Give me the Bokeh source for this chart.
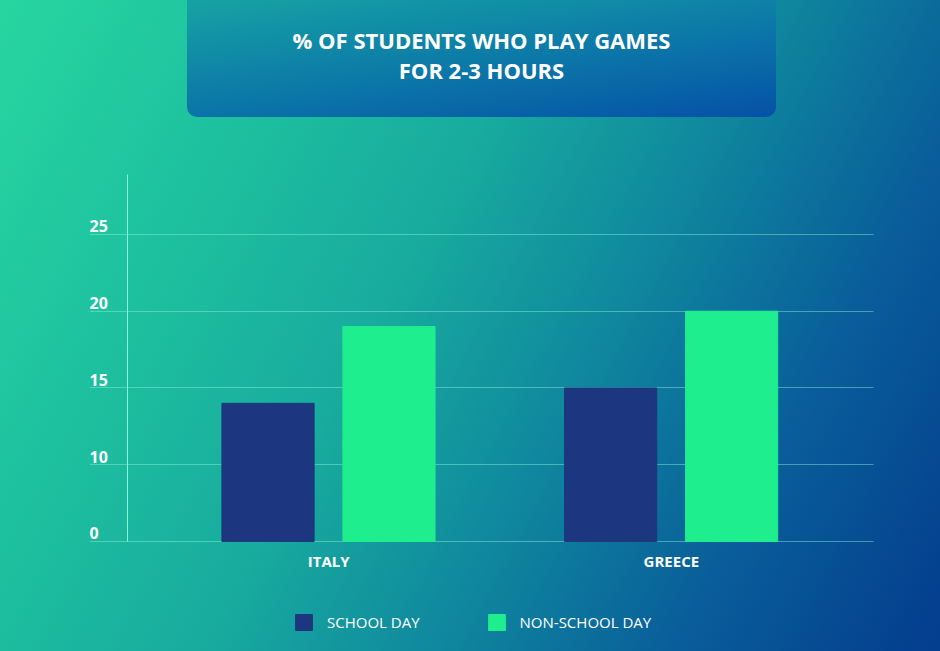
from bokeh.plotting import figure
from bokeh.models import ColumnDataSource, FixedTicker, LabelSet, Div
from bokeh.layouts import column
from bokeh.transform import dodge
from bokeh.core.properties import value
from bokeh.embed import file_html
from bokeh.resources import INLINE

countries = ["ITALY", "GREECE"]
school_day = [14, 15]
non_school_day = [19, 20]

# the original axis reads 0, 10, 15, 20, 25 with equal spacing
y_ticks = [5, 10, 15, 20, 25]
y_tick_labels = ["0", "10", "15", "20", "25"]

title_lines = ["% OF STUDENTS WHO PLAY GAMES", "FOR 2-3 HOURS"]

source = ColumnDataSource(data=dict(country=countries, school=school_day, nonschool=non_school_day))

header = Div(
    text="<div style=\"width:589px;padding-top:25px;text-align:center;color:white;font-family:'Open Sans';"
         "font-weight:700;font-size:22px;line-height:30px;\">" + "<br>".join(title_lines) + "</div>",
    width=589, height=117, margin=(0, 0, 0, 187),
    styles={"background": "linear-gradient(172deg, #16a3a4 0%, #0b74a8 58%, #0551a6 100%)",
            "border-radius": "0 0 10px 10px"},
)

# frame covers the whole plot area, axes sit inside it
p = figure(x_range=countries, y_range=(-2.17, 32.62), width=940, height=534,
           output_backend="svg", toolbar_location=None,
           min_border_left=89, min_border_right=30, min_border_top=0, min_border_bottom=0)

p.background_fill_alpha = 0
p.border_fill_alpha = 0
p.outline_line_color = None
p.x_range.range_padding = 0.198
p.x_range.range_padding_units = "absolute"

p.vbar(x=dodge("country", -0.177, range=p.x_range), top="school", bottom=y_ticks[0], width=0.269,
       source=source, color="#1c377f", legend_label="SCHOOL DAY")
p.vbar(x=dodge("country", 0.176, range=p.x_range), top="nonschool", bottom=y_ticks[0], width=0.269,
       source=source, color="#1eee8d", legend_label="NON-SCHOOL DAY")

grid_color = "#8ff5dc"
p.xgrid.grid_line_color = None
p.ygrid.ticker = FixedTicker(ticks=y_ticks)
p.ygrid.grid_line_color = grid_color
p.ygrid.grid_line_alpha = 0.45
p.ygrid.cross_bounds = (-0.198, 2.091)

p.yaxis.fixed_location = -0.087
p.yaxis.bounds = (y_ticks[0], 28.9)
p.yaxis.ticker = FixedTicker(ticks=[])
p.yaxis.major_tick_line_color = None
p.yaxis.minor_tick_line_color = None
p.yaxis.axis_line_color = "#86f7dc"

p.xaxis.fixed_location = y_ticks[0]
p.xaxis.axis_line_color = None
p.xaxis.major_tick_line_color = None
p.xaxis.major_label_standoff = 4
p.xaxis.major_label_text_color = "white"
p.xaxis.major_label_text_font = "Open Sans"
p.xaxis.major_label_text_font_style = "bold"
p.xaxis.major_label_text_font_size = "15px"

ylab_source = ColumnDataSource(data=dict(y=y_ticks, text=y_tick_labels))
ylabels = LabelSet(x=0, y="y", text="text", x_units="screen", y_offset=2, source=ylab_source,
                   text_align="left", text_baseline="alphabetic", text_color="white",
                   text_font=value("Open Sans"), text_font_style="bold", text_font_size="16px")
p.add_layout(ylabels)

p.legend.orientation = "horizontal"
p.legend.location = (204, 19)
p.legend.glyph_width = 21
p.legend.glyph_height = 20
p.legend.label_standoff = 13
p.legend.spacing = 66
p.legend.padding = 0
p.legend.margin = 0
p.legend.border_line_color = None
p.legend.background_fill_alpha = 0
p.legend.label_text_color = "white"
p.legend.label_text_font = "Open Sans"
p.legend.label_text_font_size = "15px"

layout = column(header, p, width=940, height=651,
                styles={"background": "linear-gradient(118deg, #27d6a0 0%, #1dbf9f 24%, #18ab9e 42.5%, "
                                      "#0f879e 61%, #095e9a 79%, #04408f 97.5%, #043e8f 100%)"})

open("out.html", "w").write(file_html(layout, INLINE))
